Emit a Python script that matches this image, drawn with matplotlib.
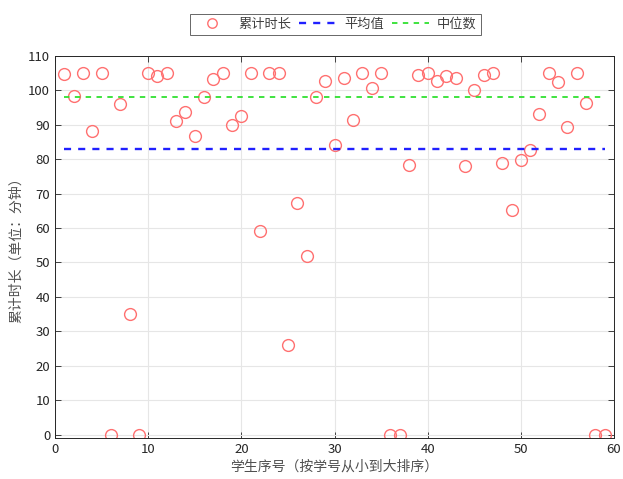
import numpy as np
import matplotlib
matplotlib.use('Agg')
import matplotlib.pyplot as plt

plt.rcParams['font.family'] = ['Noto Sans CJK SC', 'DejaVu Sans']

# Cumulative time per student, ordered by student number
student_ids = list(range(1, 60))
durations = [
    104.8, 98.4, 105, 88.2, 105, 0, 96, 35, 0, 105,
    104.2, 105, 91, 93.7, 86.8, 98, 103.3, 105, 90, 92.5,
    105, 59.2, 105, 105, 26, 67.3, 52, 98, 102.7, 84.2,
    103.6, 91.4, 105, 100.8, 105, 0, 0, 78.2, 104.6, 105,
    102.6, 104.2, 103.7, 78, 100, 104.5, 105, 78.8, 65.3, 79.7,
    82.6, 93, 105, 102.5, 89.4, 105, 96.3, 0, 0,
]
x_ticks = [0, 10, 20, 30, 40, 50, 60]
y_ticks = [0, 10, 20, 30, 40, 50, 60, 70, 80, 90, 100, 110]

mean_val = np.mean(durations)
median_val = np.median(durations)

fig = plt.figure(figsize=(6.23, 4.79), dpi=100)
ax = fig.add_axes([0.0883, 0.0856, 0.8973, 0.7975])

ax.plot(student_ids, durations, 'o', markersize=8.5, markerfacecolor='none',
        markeredgecolor='#ff7070', markeredgewidth=1.0, label='累计时长')
ax.plot([student_ids[0], student_ids[-1]], [mean_val, mean_val], '--',
        color='#2020ff', linewidth=1.7, dashes=(3, 3), label='平均值')
ax.plot([student_ids[0], student_ids[-1]], [median_val, median_val], '--',
        color='#30e030', linewidth=1.3, dashes=(3, 3), label='中位数')

ax.set_xlim(0, 60)
ax.set_ylim(-1, 110)
ax.set_xticks(x_ticks)
ax.set_yticks(y_ticks)
ax.tick_params(direction='in', top=True, right=True, labelsize=9.5,
               colors='#262626', length=4, width=0.6)
ax.grid(True, color='#e6e6e6', linewidth=0.8)
ax.set_axisbelow(True)
for sp in ax.spines.values():
    sp.set_color('#262626')
    sp.set_linewidth(0.7)

ax.set_xlabel('学生序号（按学号从小到大排序）', fontsize=10, color='#505050', labelpad=3)
ax.set_ylabel('累计时长（单位：分钟）', fontsize=10, color='#505050', labelpad=4)

leg = fig.legend(loc='center', bbox_to_anchor=(0.538, 0.949), ncol=3,
                 fontsize=9.5, frameon=True, fancybox=False, edgecolor='#404040',
                 handlelength=2.8, columnspacing=0.6, handletextpad=0.6,
                 borderpad=0.3, markerscale=0.8)
leg.get_frame().set_linewidth(0.7)
for t in leg.get_texts():
    t.set_color('#404040')

fig.savefig('out.png', dpi=100)
